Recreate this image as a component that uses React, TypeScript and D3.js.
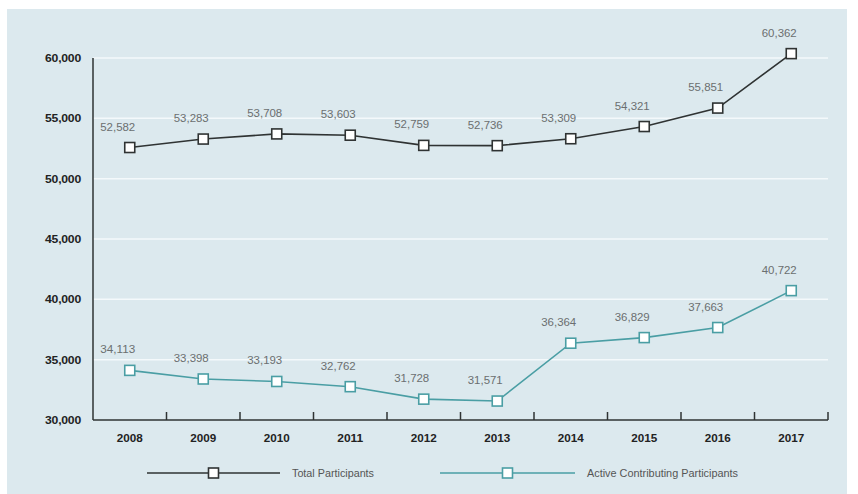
import React from "react";
import * as d3 from "d3";

const years = ["2008", "2009", "2010", "2011", "2012", "2013", "2014", "2015", "2016", "2017"];
const totalParticipants = [52582, 53283, 53708, 53603, 52759, 52736, 53309, 54321, 55851, 60362];
const activeParticipants = [34113, 33398, 33193, 32762, 31728, 31571, 36364, 36829, 37663, 40722];
const yTicks = [30000, 35000, 40000, 45000, 50000, 55000, 60000];
const seriesNames = ["Total Participants", "Active Contributing Participants"];

const W = 858;
const H = 494;
const M = { left: 93, right: 828, top: 58, bottom: 420 };
const DARK = "#2f3333";
const TEAL = "#4a9ea4";
const BG = "#dce9ee";

export default function App() {
  const x = d3.scaleBand<string>().domain(years).range([M.left, M.right]);
  const y = d3.scaleLinear().domain([30000, 60000]).range([M.bottom, M.top]);
  const fmt = d3.format(",");
  const line = d3
    .line<number>()
    .x((_, i) => (x(years[i]) as number) + x.bandwidth() / 2)
    .y((d) => y(d));

  const series = [
    { name: seriesNames[0], data: totalParticipants, color: DARK },
    { name: seriesNames[1], data: activeParticipants, color: TEAL },
  ];
  const ms = 10;
  const tickXs = years.map((yr) => (x(yr) as number) + x.bandwidth());

  const legend = [
    { x1: 147, x2: 280, name: seriesNames[0], color: DARK, w: 82 },
    { x1: 440, x2: 575, name: seriesNames[1], color: TEAL, w: 151 },
  ];
  const ly = 473;

  return (
    <svg
      width={W}
      height={H}
      style={{ position: "absolute", left: 0, top: 0, display: "block" }}
      fontFamily="'Liberation Sans', Arial, sans-serif"
    >
      <rect x={0} y={0} width={W} height={H} fill="#ffffff" />
      <rect x={7} y={9} width={840} height={H - 9} fill={BG} />
      {yTicks.slice(1).map((t) => (
        <line key={t} x1={M.left} x2={M.right} y1={y(t)} y2={y(t)} stroke="#f4f9fb" strokeWidth={1.5} />
      ))}
      <line x1={M.left} x2={M.left} y1={M.top} y2={M.bottom} stroke={DARK} strokeWidth={1.5} />
      <line x1={M.left} x2={M.right} y1={M.bottom} y2={M.bottom} stroke={DARK} strokeWidth={1.5} />
      {tickXs.map((tx, i) => (
        <line key={i} x1={tx} x2={tx} y1={M.bottom} y2={M.bottom - 8} stroke={DARK} strokeWidth={1.5} />
      ))}
      {yTicks.map((t) => (
        <text key={t} x={81} y={y(t) + 4} textAnchor="end" fontSize={11.5} fontWeight="bold" fill="#222" letterSpacing={-0.2} textLength={36} lengthAdjust="spacingAndGlyphs">
          {fmt(t)}
        </text>
      ))}
      {years.map((yr) => (
        <text
          key={yr}
          x={(x(yr) as number) + x.bandwidth() / 2}
          y={442}
          textAnchor="middle"
          fontSize={11.5}
          fontWeight="bold"
          fill="#222"
          textLength={26}
          lengthAdjust="spacingAndGlyphs"
        >
          {yr}
        </text>
      ))}
      {series.map((s) => (
        <g key={s.name}>
          <path d={line(s.data) || ""} fill="none" stroke={s.color} strokeWidth={1.6} />
          {s.data.map((v, i) => {
            const cx = (x(years[i]) as number) + x.bandwidth() / 2;
            const cy = y(v);
            return (
              <g key={i}>
                <rect x={cx - ms / 2} y={cy - ms / 2} width={ms} height={ms} fill="#ffffff" stroke={s.color} strokeWidth={1.6} />
                <text x={cx - 12} y={cy - 17} textAnchor="middle" fontSize={11.5} fill="#6b6f70" textLength={35} lengthAdjust="spacingAndGlyphs">
                  {fmt(v)}
                </text>
              </g>
            );
          })}
        </g>
      ))}
      {legend.map((l) => {
        const mx = (l.x1 + l.x2) / 2;
        return (
          <g key={l.name}>
            <line x1={l.x1} x2={l.x2} y1={ly} y2={ly} stroke={l.color} strokeWidth={1.4} />
            <rect x={mx - ms / 2} y={ly - ms / 2} width={ms} height={ms} fill="#ffffff" stroke={l.color} strokeWidth={1.6} />
            <text x={l.x2 + 12} y={ly + 4} fontSize={11} fill="#555" textLength={l.w} lengthAdjust="spacingAndGlyphs">
              {l.name}
            </text>
          </g>
        );
      })}
    </svg>
  );
}
